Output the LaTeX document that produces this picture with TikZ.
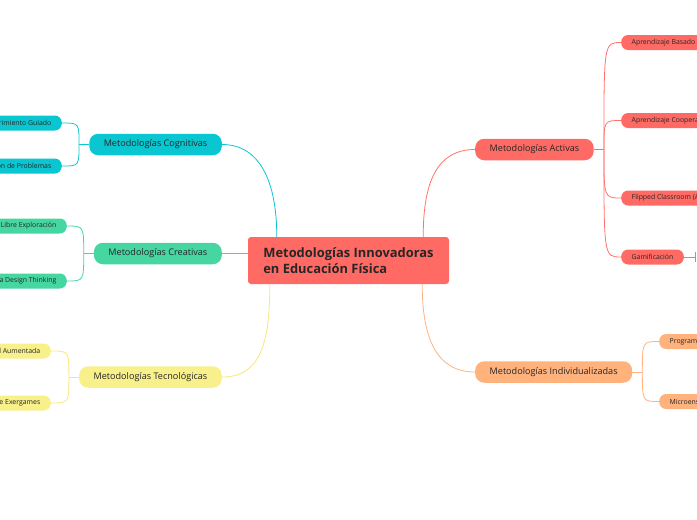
\documentclass[tikz,border=0pt]{standalone}
\usepackage{fontspec}
\setmainfont{Open Sans}
\usetikzlibrary{calc}

\definecolor{coreRed}{HTML}{FF6B64}
\definecolor{cogCyan}{HTML}{0AC6D1}
\definecolor{creGreen}{HTML}{45D6A2}
\definecolor{tecYellow}{HTML}{F8F08B}
\definecolor{indPeach}{HTML}{FFB27C}
\definecolor{inkDark}{HTML}{262626}

\begin{document}
\begin{tikzpicture}[
    x=1pt, y=1pt,
    % Size styles
    node core/.style={rounded corners=3pt, align=left, minimum width=201pt, minimum height=47pt, inner xsep=13pt, font=\fontsize{12.9}{16}\selectfont\bfseries, text=inkDark},
    node main/.style={rounded corners=9pt, minimum height=21.5pt, inner xsep=14.5pt, inner ysep=2pt, font=\fontsize{9.1}{11}\selectfont, text=inkDark},
    node leaf/.style={rounded corners=7pt, minimum height=15pt, inner xsep=10.5pt, inner ysep=1pt, font=\fontsize{6.9}{8}\selectfont, text=inkDark},
    % Color styles based on branch
    core/.style={fill=coreRed},
    branchAct/.style={fill=coreRed},
    branchCog/.style={fill=cogCyan},
    branchCre/.style={fill=creGreen},
    branchTec/.style={fill=tecYellow},
    branchInd/.style={fill=indPeach},
    % Connector styles
    link/.style={line width=0.8pt},
    linkAct/.style={link, draw=coreRed!95!white},
    linkCog/.style={link, draw=cogCyan},
    linkCre/.style={link, draw=creGreen},
    linkTec/.style={link, draw=tecYellow!90!orange},
    linkInd/.style={link, draw=indPeach}
]
\useasboundingbox (0,0) rectangle (697,-520);
\clip (0,0) rectangle (697,-520);

\node[node core, core] (central) at (348.5,-260.5) {Metodologías Innovadoras\\en Educación Física};

% --- COGNITIVAS (cyan) ---
\node[node main, branchCog, anchor=east] (cognitivas) at (222,-144.5) {Metodologías Cognitivas};
\node[node leaf, branchCog, anchor=east] (guiado) at (62,-123) {Descubrimiento Guiado};
\node[node leaf, branchCog, anchor=east] (problemas) at (62,-166) {Resolución de Problemas};
\draw[linkCog] ([xshift=29pt]central.north west) .. controls +(0,55) and +(38,0) .. (cognitivas.east);
\draw[linkCog] (cognitivas.west) -- ++(-10,0) coordinate (cogfork);
\draw[linkCog] (cogfork) .. controls (cogfork |- guiado.east) .. (guiado.east);
\draw[linkCog] (cogfork) .. controls (cogfork |- problemas.east) .. (problemas.east);

% --- CREATIVAS (green) ---
\node[node main, branchCre, anchor=east] (creativas) at (222,-253.5) {Metodologías Creativas};
\node[node leaf, branchCre, anchor=east] (libre) at (67,-226) {Juego de Libre Exploración};
\node[node leaf, branchCre, anchor=east] (design) at (67,-281) {Metodología Design Thinking};
\draw[linkCre] (central.west |- creativas.east) -- (creativas.east);
\draw[linkCre] (creativas.west) -- ++(-10,0) coordinate (crefork);
\draw[linkCre] (crefork) .. controls (crefork |- libre.east) .. (libre.east);
\draw[linkCre] (crefork) .. controls (crefork |- design.east) .. (design.east);

% --- TECNOLOGICAS (yellow) ---
\node[node main, branchTec, anchor=east] (tecnologicas) at (222,-377) {Metodologías Tecnológicas};
\node[node leaf, branchTec, anchor=east] (aumentada) at (51,-351) {Realidad Aumentada};
\node[node leaf, branchTec, anchor=east] (exergames) at (51,-403) {Uso de Exergames};
\draw[linkTec] ([xshift=22pt]central.south west) .. controls +(0,-60) and +(38,0) .. (tecnologicas.east);
\draw[linkTec] (tecnologicas.west) -- ++(-10,0) coordinate (tecfork);
\draw[linkTec] (tecfork) .. controls (tecfork |- aumentada.east) .. (aumentada.east);
\draw[linkTec] (tecfork) .. controls (tecfork |- exergames.east) .. (exergames.east);

% --- ACTIVAS (red) ---
\node[node main, branchAct, anchor=west] (activas) at (475,-149.5) {Metodologías Activas};
\node[node leaf, branchAct, anchor=west] (proyectos) at (621,-42.5) {Aprendizaje Basado en Proyectos};
\node[node leaf, branchAct, anchor=west] (cooperativo) at (621,-120.5) {Aprendizaje Cooperativo};
\node[node leaf, branchAct, anchor=west] (flipped) at (621,-198) {Flipped Classroom (Aula Invertida)};
\node[node leaf, branchAct, anchor=west] (gamificacion) at (621,-257) {Gamificación};
\draw[linkAct] ([xshift=-26pt]central.north east) .. controls +(0,55) and +(-38,0) .. (activas.west);
\draw[linkAct] (activas.east) -- ++(10,0) coordinate (actfork);
\draw[linkAct] (actfork) .. controls (actfork |- proyectos.west) .. (proyectos.west);
\draw[linkAct] (actfork) .. controls (actfork |- cooperativo.west) .. (cooperativo.west);
\draw[linkAct] (actfork) .. controls (actfork |- flipped.west) .. (flipped.west);
\draw[linkAct] (actfork) .. controls (actfork |- gamificacion.west) .. (gamificacion.west);
\draw[linkAct] (gamificacion.east) -- ++(11,0) coordinate (gamfork);
\draw[linkAct] ([yshift=5pt]gamfork) -- ([yshift=-5pt]gamfork);

% --- INDIVIDUALIZADAS (peach) ---
\node[node main, branchInd, anchor=west] (individualizadas) at (475,-372) {Metodologías Individualizadas};
\node[node leaf, branchInd, anchor=west] (programas) at (659,-341.5) {Programas Individualizados};
\node[node leaf, branchInd, anchor=west] (microensenanza) at (659,-401.5) {Microenseñanza};
\draw[linkInd] ([xshift=-27pt]central.south east) .. controls +(0,-55) and +(-38,0) .. (individualizadas.west);
\draw[linkInd] (individualizadas.east) -- ++(10,0) coordinate (indfork);
\draw[linkInd] (indfork) .. controls (indfork |- programas.west) .. (programas.west);
\draw[linkInd] (indfork) .. controls (indfork |- microensenanza.west) .. (microensenanza.west);

\end{tikzpicture}
\end{document}
